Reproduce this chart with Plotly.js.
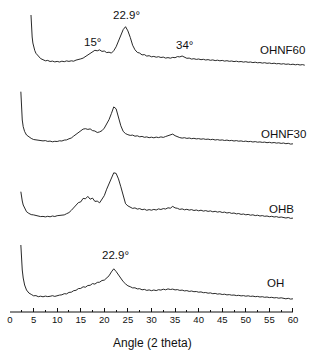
<!DOCTYPE html>
<html>
<head>
<meta charset="utf-8">
<script src="https://cdn.plot.ly/plotly-3.0.1.min.js"></script>
<style>html,body{margin:0;padding:0;background:#fff;}#chart{width:313px;height:352px;}</style>
</head>
<body>
<div id="chart"></div>
<script>
// Diffraction angle (2 theta) sampling for OH, OHB, OHNF30
var angleA = [2.3,2.4,2.6,2.8,3.1,3.5,
  4,4.5,5,5.5,6,6.5,7,7.5,8,8.5,
  9,9.5,10,10.5,11,11.5,12,12.5,13,13.5,
  14,14.5,15,15.5,16,16.5,17,17.5,18,18.5,
  19,19.5,20,20.5,21,21.5,22,22.5,23,23.5,
  24,24.5,25,25.5,26,26.5,27,27.5,28,28.5,
  29,29.5,30,30.5,31,31.5,32,32.5,33,33.5,
  34,34.5,35,35.5,36,36.5,37,37.5,38,38.5,
  39,39.5,40,40.5,41,41.5,42,42.5,43,43.5,
  44,44.5,45,45.5,46,46.5,47,47.5,48,48.5,
  49,49.5,50,50.5,51,51.5,52,52.5,53,53.5,
  54,54.5,55,55.5,56,56.5,57,57.5,58,58.5,
  59,59.5,60];
// Angle sampling for OHNF60 (trace is shifted in the original figure)
var angleB = [4.45,4.55,4.7,4.85,5,5.25,
  5.5,6,6.5,7,7.5,8,8.5,9,9.5,10,
  10.5,11,11.5,12,12.5,13,13.5,14,14.5,15,
  15.5,16,16.5,17,17.5,18,18.5,19,19.5,20,
  20.5,21,21.5,22,22.5,23,23.5,24,24.5,25,
  25.5,26,26.5,27,27.5,28,28.5,29,29.5,30,
  30.5,31,31.5,32,32.5,33,33.5,34,34.5,35,
  35.5,36,36.5,37,37.5,38,38.5,39,39.5,40,
  40.5,41,41.5,42,42.5,43,43.5,44,44.5,45,
  45.5,46,46.5,47,47.5,48,48.5,49,49.5,50,
  50.5,51,51.5,52,52.5,53,53.5,54,54.5,55,
  55.5,56,56.5,57,57.5,58,58.5,59,59.5,60,
  60.5,61,61.5,62,62.5];

// Intensities (arbitrary units, relative to each trace's own baseline)
var intOH = [67,55,42,34,27,22,
  19,17.6,16.2,16.4,15.3,15.8,15.2,15.9,15.4,15.7,
  16.3,15.6,16.4,16.9,17.2,18.3,18.1,19.6,19.8,21.3,
  21.7,23.4,23.6,25.2,24.8,26.5,26.7,28.4,27.9,29.6,
  29.8,31.5,31.9,34.1,36.2,40.1,43.2,40.5,36.8,33.6,
  30.4,28.1,26.2,25.3,24.1,24.2,23.1,23.3,22.2,22.6,
  21.6,22.1,21.3,22.0,21.4,22.3,21.9,22.8,22.2,23.1,
  22.5,22.9,22.1,22.4,21.6,21.9,21.1,21.4,20.6,21.0,
  20.3,20.5,19.8,20.1,19.3,19.5,18.8,19.1,18.3,18.6,
  17.9,18.2,17.5,17.8,17.1,17.4,16.8,17.0,16.4,16.7,
  16.1,16.4,15.8,16.2,15.6,15.9,15.3,15.6,15.0,15.3,
  14.7,15.0,14.4,14.7,14.1,14.4,13.8,14.2,13.6,13.2,
  13.7,12.9,13.2];
var intOHB = [40.3,36,31,27,23.5,20.3,
  18.6,17.4,17.1,16.3,16.2,15.4,15.6,15.1,15.7,15.2,
  16.0,15.5,16.3,16.4,17.2,17.1,18.3,19.4,21.6,24.2,
  26.0,29.4,30.1,33.6,33.2,35.6,32.8,33.9,30.6,30.9,
  29.2,32.6,36.4,42.8,48.1,54.6,59.2,58.6,53.1,45.2,
  35.4,28.3,26.1,24.9,23.6,24.1,22.9,23.4,22.3,22.8,
  21.7,22.4,21.8,22.6,22.0,23.1,22.5,23.4,23.0,24.2,
  23.8,25.6,24.1,23.7,22.6,23.1,22.2,22.7,21.9,22.4,
  21.5,22.0,21.2,21.8,20.9,21.4,20.6,21.1,20.2,20.7,
  19.9,20.4,19.5,19.9,19.0,19.5,18.6,19.0,18.1,18.5,
  17.6,18.0,17.2,17.6,16.8,17.2,16.4,16.8,16.0,16.4,
  15.7,16.0,15.3,15.7,15.0,15.4,14.6,15.0,14.4,14.0,
  14.5,13.6,13.9];
var intOHNF30 = [65.3,47,37,30.3,25.5,22,
  20.1,18.6,17.5,17.2,16.5,16.8,16.1,16.4,15.6,15.9,
  15.2,15.7,15.5,16.2,16.0,16.9,17.1,18.2,19.0,20.9,
  22.6,24.8,26.4,27.9,28.3,27.6,28.1,26.4,26.0,24.5,
  25.1,26.3,28.9,32.6,37.4,43.5,50.1,48.2,39.6,31.2,
  25.6,23.4,22.3,21.6,21.9,20.8,21.2,20.2,20.6,19.7,
  20.1,19.3,19.8,19.2,19.9,19.4,20.1,19.6,20.5,21.2,
  21.8,22.9,21.3,20.1,19.4,18.9,19.3,18.6,19.0,18.3,
  18.7,18.1,18.4,17.8,18.2,17.6,17.9,17.3,17.7,17.0,
  17.4,16.8,17.1,16.5,16.9,16.3,16.6,16.0,16.4,15.8,
  16.1,15.5,15.9,15.3,15.6,15.0,15.4,14.8,15.1,14.6,
  14.9,14.3,14.7,14.1,14.5,13.9,14.2,13.6,14.0,13.3,
  13.7,12.9,13.2];
var intOHNF60 = [62,50,40,34,30,26.5,
  23.7,20.6,18.4,17.3,16.2,16.6,15.5,15.9,15.1,15.6,
  15.0,15.8,15.3,16.1,15.6,16.2,15.8,16.9,17.2,18.1,
  18.9,20.6,22.1,24.0,24.8,26.7,26.2,27.1,25.6,26.0,
  24.4,24.8,23.9,26.3,30.2,36.5,42.7,47.4,50.3,46.1,
  39.6,31.8,27.2,24.6,23.9,22.1,22.4,20.9,21.3,20.2,
  20.6,19.8,20.3,19.5,19.9,18.9,19.4,18.8,19.6,19.3,
  20.4,20.1,21.0,19.6,18.7,18.9,17.9,18.3,17.6,18.0,
  17.3,17.7,17.0,17.4,16.7,17.1,16.4,16.8,16.2,16.6,
  15.9,16.3,15.7,16.0,15.4,15.8,15.2,15.5,14.9,15.3,
  14.7,15.0,14.4,14.8,14.2,14.5,13.9,14.3,13.7,14.0,
  13.4,13.8,13.2,13.5,12.9,13.3,12.7,13.0,12.4,12.8,
  12.2,12.6,12.0,12.4,11.8];

var seriesNames = ["OH", "OHB", "OHNF30", "OHNF60"];
var stackOffsets = [0, 80, 155, 235];
var tickVals = [0,5,10,15,20,25,30,35,40,45,50,55,60];
var minorTickVals = [2.5,7.5,12.5,17.5,22.5,27.5,32.5,37.5,42.5,47.5,52.5,57.5];

var seriesX = [angleA, angleA, angleA, angleB];
var seriesY = [intOH, intOHB, intOHNF30, intOHNF60];

var traces = seriesNames.map(function (name, i) {
  return {
    type: "scatter", mode: "lines", name: name,
    x: seriesX[i],
    y: seriesY[i].map(function (v) { return v + stackOffsets[i]; }),
    line: { color: "#111111", width: 0.9 },
    showlegend: false, hoverinfo: "skip"
  };
});

var fontFam = "Liberation Sans, Arial, sans-serif";
function ann(x, y, text, size) {
  return { x: x, y: y, xref: "x", yref: "y", text: text, showarrow: false,
    font: { family: fontFam, size: size, color: "#111" }, xanchor: "center", yanchor: "middle" };
}

var annotations = [
  ann(57.7, 262, "OHNF60", 11.5),
  ann(57.9, 178, "OHNF30", 11.5),
  ann(57.6, 103, "OHB", 11.5),
  ann(56.2, 28.7, "OH", 11.5),
  ann(17.4, 270, "15°", 11.5),
  ann(24.8, 297, "22.9°", 11.5),
  ann(37.1, 267, "34°", 11.5),
  ann(22.3, 57, "22.9°", 11.5),
  { x: 30.2, y: -0.1, xref: "x", yref: "paper", text: "Angle (2 theta)", showarrow: false,
    font: { family: fontFam, size: 12, color: "#111" }, xanchor: "center", yanchor: "middle" }
];

var layout = {
  width: 313, height: 352,
  margin: { l: 10, r: 4, t: 0, b: 40 },
  paper_bgcolor: "#ffffff", plot_bgcolor: "#ffffff",
  showlegend: false,
  xaxis: {
    range: [0, 63.4], showgrid: false, zeroline: false, showline: false,
    tickmode: "array", tickvals: tickVals, ticktext: tickVals.map(String),
    ticks: "inside", ticklen: 4, tickwidth: 1, tickcolor: "#111",
    tickfont: { family: fontFam, size: 9.5, color: "#111" },
    minor: { tickmode: "array", tickvals: minorTickVals, ticks: "inside", ticklen: 2, tickwidth: 1, tickcolor: "#111", showgrid: false }
  },
  yaxis: { range: [0, 312], visible: false, showgrid: false, zeroline: false },
  shapes: [
    { type: "line", xref: "x", yref: "paper", x0: 0, x1: 60, y0: 0, y1: 0, line: { color: "#111", width: 1 } }
  ],
  annotations: annotations
};

Plotly.newPlot("chart", traces, layout, { displayModeBar: false, staticPlot: true });
</script>
</body>
</html>
